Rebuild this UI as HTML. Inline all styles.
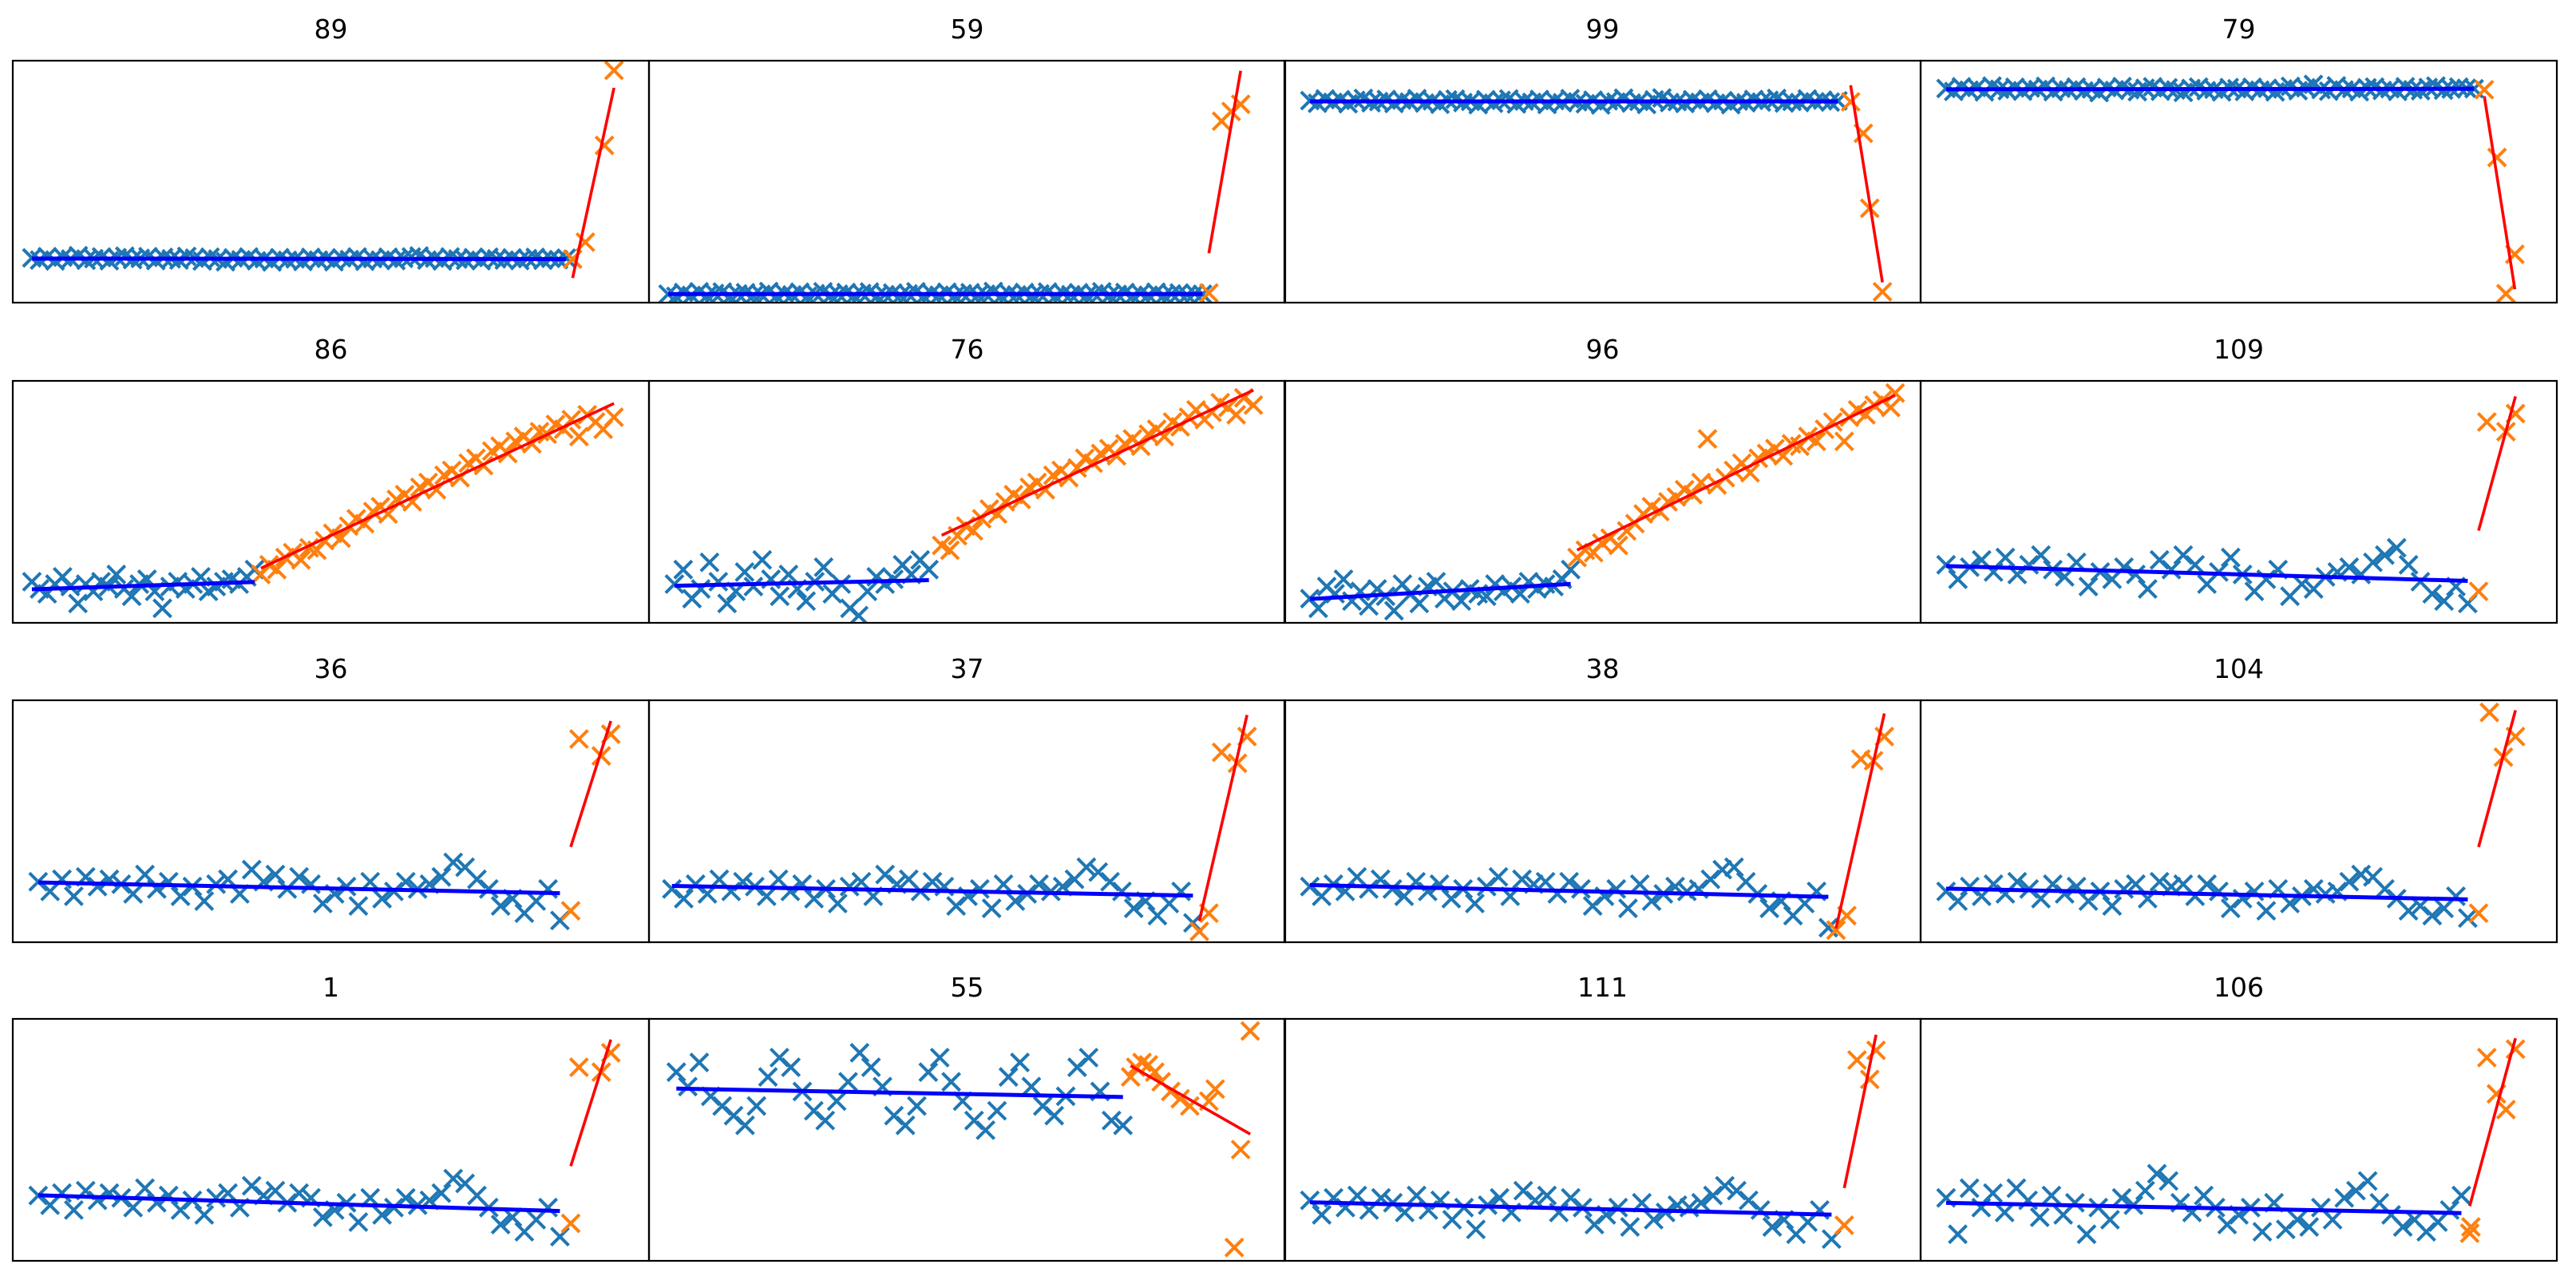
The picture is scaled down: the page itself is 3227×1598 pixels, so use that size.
<!DOCTYPE html>
<html><head><meta charset="utf-8">
<style>
html,body{margin:0;padding:0;background:#fff;}
svg{display:block;}
text{font-family:"DejaVu Sans","Liberation Sans",sans-serif;}
</style></head>
<body>
<svg id="chart" xmlns="http://www.w3.org/2000/svg" width="3227" height="1598" viewBox="0 0 3227 1598"></svg>
<script>
// ---- data (y in % of panel height, x in % of panel width) ----
const titles = ["89","59","99","79","86","76","96","109","36","37","38","104","1","55","111","106"];
const blueRange = [[3,87],[3,87],[4,87],[4,87],[3,38],[4,44],[4,45],[4,86],[4,86],[3.6,85.5],[4,85.5],[4,86],[4,86],[4.3,74.5],[4,86],[4,85]];
const blueY = [
 [18.5,17.6,19,17.2,18.8,18,19.4,17.5,18.2,18.9,17.3,18.6,19.2,17.8,18.3,19,17.4,18.7,18.1,17.6,19.1,18.4,17.2,18.8,18,16.9,18.5,17.7,18.9,17.3,18.2,16.8,18.6,17.5,18.1,17,18.7,17.6,18.3,16.9,18.5,17.8,18.9,17.1,18.2,17.6,18.8,17.4,18.3,18.9,19.3,17.6,18.4,17.2,18.9,18,17.5,18.6,17.3,18.8,18.1,17.6,18.5,17.4,18.2,18.7,17.5,18.3,17.8,18.4],
 [3.5,2.6,4.2,3,4.5,2.8,3.8,4.4,2.5,3.6,4.1,2.9,3.4,4.6,2.7,3.9,3.2,4.3,2.6,3.7,4.5,3,3.5,4.2,2.8,3.8,4.4,2.7,3.3,4,2.9,3.6,4.5,2.6,3.9,3.1,4.3,2.8,3.7,4.1,3,3.5,4.6,2.7,3.8,3.2,4.2,2.9,3.6,4.4,2.6,3.9,3.3,4.1,2.8,3.7,4.5,3,3.4,4.2,2.7,3.8,3.1,4.3,2.9,3.6,4,3.2,3.8,3.5],
 [83.5,82.4,84.2,82.8,83.9,82.2,83.6,84.4,82.6,83.1,84,82.3,83.7,82.9,84.3,82.5,83.4,82,83.8,84.1,82.7,83.2,81.8,83.9,82.4,83.6,84.2,82.1,83.3,82.8,84,81.9,83.5,82.6,84.3,83,82.2,83.7,81.7,83.4,82.9,84.5,82.5,83.2,81.9,83.8,84.6,82.7,83.1,82.3,83.9,82.8,84.1,82.4,83.5,81.8,83.3,82.6,84,82.9,83.6,84.4,82.5,83.2,82.7,84.2,83,83.7,82.9,83.4],
 [88.5,87.3,89.2,87.8,88.9,87.1,89.5,88.2,87.6,89,87.4,88.7,88.1,89.4,87.2,88.6,87.9,89.1,87.5,88.3,86.8,88.9,87.7,89.3,88,87.2,88.6,89.2,87.4,88.8,87.9,86.9,88.5,89.1,87.6,88.2,87.1,88.9,88.4,87.3,89,87.8,88.6,87.1,88.3,89.4,87.6,88.8,90.2,88.1,87.4,89.6,87.9,88.5,87.2,88.8,89.1,87.7,88.4,87.3,89.2,88,87.6,88.9,89.5,87.8,88.3,89.1,88.6,88.4],
 [17,14,12,16,19,15,8,16,13,17,15,20,14,11,16,18,13,6,15,17,14,16,19,13,15,17,18,16,19,22],
 [16,22,10,14,25,17,8,13,21,15,26,18,11,20,14,9,17,23,12,16,6,3,13,19,16,18,24,20,26,22],
 [10,6,15,12,18,9,13,7,14,11,5,16,12,8,15,17,10,13,9,14,12,11,16,13,15,12,17,14,16,15,18,22],
 [24,18,23,26,21,27,20,24,28,22,19,25,15,21,18,23,20,14,26,22,28,24,16,21,27,20,13,18,22,11,16,14,19,21,23,20,25,28,31,24,17,12,9,15,8],
 [25,21,26,19,27,23,26,24,20,28,22,25,19,23,17,24,26,20,30,25,28,22,27,24,16,20,23,15,25,18,21,25,22,24,27,33,31,26,22,15,18,12,17,22,9],
 [22,18,24,20,26,21,25,23,19,26,21,24,18,22,16,23,25,19,28,24,26,21,25,23,15,19,22,14,24,17,20,24,21,23,26,31,29,25,21,14,17,11,16,21,8],
 [23,19,24,21,27,22,26,22,19,25,21,24,18,22,16,23,27,19,26,24,25,20,25,22,15,19,22,14,24,17,20,23,21,22,26,30,31,25,20,14,17,11,16,21,6],
 [21,17,23,19,24,20,25,22,18,24,20,23,17,21,15,22,24,18,25,23,24,19,24,21,14,18,21,13,22,16,19,22,20,21,25,28,27,22,18,13,15,11,14,19,10],
 [27,23,28,21,29,25,28,26,22,30,24,27,21,25,19,26,28,22,31,27,29,24,28,26,18,21,24,16,26,19,22,26,23,25,28,34,32,27,22,15,18,12,17,22,10],
 [78,72,82,68,64,60,56,64,76,84,80,70,62,58,66,74,86,80,72,60,56,64,78,84,74,66,58,54,62,76,82,72,64,60,68,80,84,70,58,56],
 [25,19,26,22,27,21,26,24,20,27,21,25,17,22,13,23,26,20,29,25,27,20,26,22,15,19,22,14,24,17,20,23,22,24,27,31,29,25,21,14,17,11,16,21,9],
 [26,11,30,22,28,20,30,25,18,27,19,24,11,22,17,26,23,29,36,33,24,20,27,22,15,19,22,12,24,13,17,14,22,17,26,29,33,24,19,14,17,12,16,21,27]
];
const orangeX = [
 [88,90,93,94.5],
 [88,90,91.5,93],
 [89,91,92,94],
 [88.6,90.6,93.4,92],
 [39,40.3,41.5,42.8,44,45.3,46.6,47.8,49,50.3,51.6,52.8,54,55.3,56.6,57.8,59,60.3,61.6,62.8,64,65.3,66.6,67.8,69,70.3,71.6,72.8,74,75.3,76.6,77.8,79,80.3,81.6,82.8,84,85.3,86.6,87.8,89,90.3,91.6,92.8,94.5],
 [46,47.3,48.5,49.8,51,52.3,53.5,54.8,56,57.3,58.5,59.8,61,62.3,63.5,64.8,66,67.3,68.5,69.8,71,72.3,73.5,74.8,76,77.3,78.5,79.8,81,82.3,83.5,84.8,86,87.3,88.5,89.8,91,92.3,93.5,95],
 [46,47.3,48.6,49.9,51.2,52.5,53.8,55.1,56.4,57.7,59,60.3,61.6,62.9,64.2,65.5,66.5,68,69.3,70.6,71.9,73.2,74.5,75.8,77.1,78.4,79.7,81,82.3,83.6,84.9,86.2,88,88.8,90.1,91.4,92.7,94,95.3,96],
 [87.7,89,92,93.5],
 [87.7,89,92.5,94],
 [88,86.5,90,92.5,94],
 [86.7,88.4,90.6,92.6,94.3],
 [87.7,89.4,91.6,93.5],
 [87.7,89,92.5,94],
 [75.7,76.5,77.5,78.5,79.5,80.5,82,83.5,85,88,89,92,93,94.5],
 [88,90,93,92],
 [86.3,86.5,89,92,90.5,93.5]
];
const orangeY = [
 [18,25,65,96],
 [4,75,79,82],
 [83,70,39,4.5],
 [88,60,20,3.7],
 [20,24,22,27,29,26,31,30,34,37,35,40,43,41,46,48,45,51,53,50,56,58,55,61,63,60,66,68,65,71,73,70,75,77,74,79,78,82,80,84,77,86,83,80,85],
 [32,30,36,40,38,43,47,45,50,53,51,56,58,55,61,63,60,64,68,66,70,72,69,74,76,73,78,80,77,83,81,85,88,84,87,91,89,86,93,90],
 [27,30,29,33,35,32,38,41,45,48,46,50,52,55,53,58,76,57,60,63,66,62,68,70,72,69,74,73,77,75,80,83,75,85,88,86,90,92,89,95],
 [13,83,79,86.5],
 [13,84,77,86],
 [12,4.5,78.5,74,85],
 [5,11,75.7,75,85],
 [12,95,76.5,85],
 [15.5,80,78,86],
 [76,80,82,81,78,74,70,67,64,66,71,5.5,46,95],
 [14.7,83,87,75],
 [11.4,14,84,62.5,69,87.5]
];

// ---- layout ----
const colX = [16, 813, 1609, 2406];
const rowY = [76, 477, 877, 1276];
const PW = 797, PH = 303;
const svg = document.getElementById('chart');
const NS = 'http://www.w3.org/2000/svg';
function mk(tag, attrs, parent){const e=document.createElementNS(NS,tag);for(const k in attrs)e.setAttribute(k,attrs[k]);(parent||svg).appendChild(e);return e;}
function fit(xs, ys){const n=xs.length;let mx=0,my=0;for(let i=0;i<n;i++){mx+=xs[i];my+=ys[i];}mx/=n;my/=n;let sxy=0,sxx=0;for(let i=0;i<n;i++){sxy+=(xs[i]-mx)*(ys[i]-my);sxx+=(xs[i]-mx)*(xs[i]-mx);}const b=sxx?sxy/sxx:0;return [b,my-b*mx];}
function marker(g, px, py, color){
  const s = 11;
  return mk('path',{d:`M${px-s},${py-s}L${px+s},${py+s}M${px-s},${py+s}L${px+s},${py-s}`,stroke:color,'stroke-width':4,fill:'none'},g);
}
const defs = mk('defs',{});
titles.forEach((t, p) => {
  const r = Math.floor(p/4), c = p%4;
  const L = colX[c], T = rowY[r];
  const sx = v => L + v/100*PW;
  const sy = v => T + PH - v/100*PH;
  const cp = mk('clipPath',{id:'clip'+p},defs);
  mk('rect',{x:L,y:T,width:PW,height:PH},cp);
  const g = mk('g',{'clip-path':`url(#clip${p})`});
  
  
  const title = mk('text',{x:L+PW/2,y:T-28,'text-anchor':'middle','font-size':33,fill:'#000'});
  title.textContent = t;
  
  
  const by = blueY[p], n = by.length, x0 = blueRange[p][0], x1 = blueRange[p][1];
  const bx = by.map((_, i) => x0 + (x1-x0)*i/(n-1));
  bx.forEach((x, i) => {
    const m = marker(g, sx(x), sy(by[i]), '#1f77b4');
    
    
  });
  const ox = orangeX[p], oy = orangeY[p];
  ox.forEach((x, i) => {
    const m = marker(g, sx(x), sy(oy[i]), '#ff7f0e');
    
    
  });
  const [bb, ba] = fit(bx, by);
  const bl = mk('line',{x1:sx(bx[0]),y1:sy(ba+bb*bx[0]),x2:sx(bx[n-1]),y2:sy(ba+bb*bx[n-1]),stroke:'#0000ff','stroke-width':5},g);
  
  
  const [rb, ra] = fit(ox, oy);
  const omin = Math.min(...ox), omax = Math.max(...ox);
  const rl = mk('line',{x1:sx(omin),y1:sy(ra+rb*omin),x2:sx(omax),y2:sy(ra+rb*omax),stroke:'#ff0000','stroke-width':3.6},g);
  
  
  const fr = mk('rect',{x:L,y:T,width:PW,height:PH,fill:'none',stroke:'#000','stroke-width':2.2});
  
  
});
</script>
</body></html>
